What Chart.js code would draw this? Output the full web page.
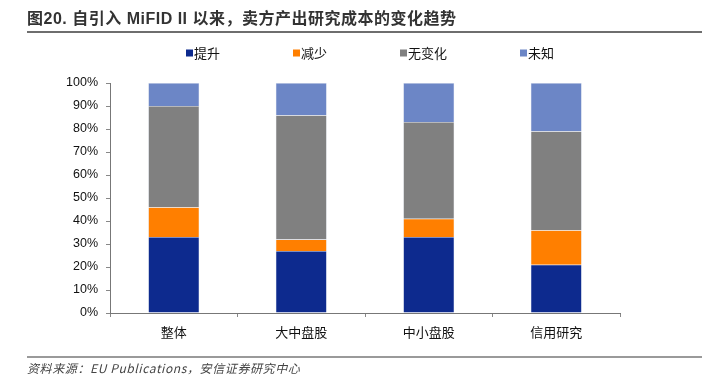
<!DOCTYPE html>
<html>
<head>
<meta charset="utf-8">
<script src="https://cdn.jsdelivr.net/npm/chart.js@4/dist/chart.umd.min.js"></script>
<style>
  html, body { margin: 0; padding: 0; background: #fff; }
  #wrap { position: relative; width: 703px; height: 388px; overflow: hidden; }
  #chart { position: absolute; left: 0; top: 0; }
  #title {
    position: absolute; left: 27px; top: 5px; right: 1px; height: 26px;
    border-bottom: 2px solid #6e6e6e;
    font: bold 16px "Liberation Sans", "Noto Sans CJK SC", sans-serif;
    color: #333; letter-spacing: 0.5px; white-space: nowrap;
  }
  #source {
    position: absolute; left: 27px; top: 356px; right: 1px;
    border-top: 2px solid #9a9a9a; padding-top: 1px;
    font: italic 12px "Noto Sans CJK SC", sans-serif; color: #444;
    letter-spacing: 0.6px; white-space: nowrap;
  }
</style>
</head>
<body>
<div id="wrap">
  <canvas id="chart" width="703" height="388"></canvas>
  <div id="title">图20. 自引入 MiFID II 以来，卖方产出研究成本的变化趋势</div>
  <div id="source">资料来源：EU Publications，安信证券研究中心</div>
</div>
<script>
const categories = ["整体", "大中盘股", "中小盘股", "信用研究"];
const seriesNames = ["提升", "减少", "无变化", "未知"];
const increase  = [33, 27, 33, 21];
const decrease  = [13, 5, 8, 15];
const unchanged = [44, 54, 42, 43];
const unknown   = [10, 14, 17, 21];
const yTicks = [0, 10, 20, 30, 40, 50, 60, 70, 80, 90, 100];
const colors = ["#0d2a8e", "#ff7f00", "#808080", "#6c86c6"];

// 凡例は位置を合わせたいので自前で描く
const legendPlugin = {
  id: "customLegend",
  afterDraw(chart) {
    const ctx = chart.ctx;
    ctx.save();
    ctx.font = '13px "Noto Sans CJK SC", sans-serif';
    ctx.textBaseline = "middle";
    let x = 186;
    const y = 53;
    chart.data.datasets.forEach(ds => {
      ctx.fillStyle = ds.backgroundColor;
      ctx.fillRect(x, y - 3.5, 7, 7);
      ctx.fillStyle = "#111";
      ctx.fillText(ds.label, x + 8, y);
      x += 8 + ctx.measureText(ds.label).width + 73;
    });
    ctx.restore();
  }
};

function renderChart() {
  const canvas = document.getElementById("chart");
  if (typeof Chart === "undefined") {
    console.error("Chart.js is not loaded");
    return;
  }
  const values = [increase, decrease, unchanged, unknown];
  const datasets = seriesNames.map((name, i) => ({
    label: name,
    data: values[i],
    backgroundColor: colors[i],
    borderColor: "rgba(200,210,230,0.6)",
    borderWidth: 0.5,
    categoryPercentage: 1,
    barPercentage: 0.4
  }));

  new Chart(canvas.getContext("2d"), {
    type: "bar",
    data: { labels: categories, datasets },
    plugins: [legendPlugin],
    options: {
      responsive: false,
      animation: false,
      layout: { padding: { left: 0, right: 83, top: 83, bottom: 0 } },
      plugins: { legend: { display: false }, tooltip: { enabled: false } },
      scales: {
        x: {
          stacked: true,
          offset: true,
          afterFit(scale) { scale.height = 75; },
          grid: { display: true, offset: true, drawOnChartArea: false, tickLength: 4, color: "#888" },
          border: { color: "#777", width: 1 },
          ticks: {
            color: "#111",
            padding: 7,
            font: { size: 13, family: '"Noto Sans CJK SC", sans-serif' }
          }
        },
        y: {
          stacked: true,
          min: 0,
          max: 100,
          afterFit(scale) { scale.width = 110; },
          afterBuildTicks(scale) { scale.ticks = yTicks.map(v => ({ value: v })); },
          grid: { drawOnChartArea: false, tickLength: 4, color: "#888" },
          border: { color: "#777", width: 1 },
          ticks: {
            color: "#111",
            padding: 8,
            font: { size: 12.5, family: '"Liberation Sans", Arial, sans-serif' },
            callback: v => v + "%"
          }
        }
      }
    }
  });
}

renderChart();
</script>
</body>
</html>
